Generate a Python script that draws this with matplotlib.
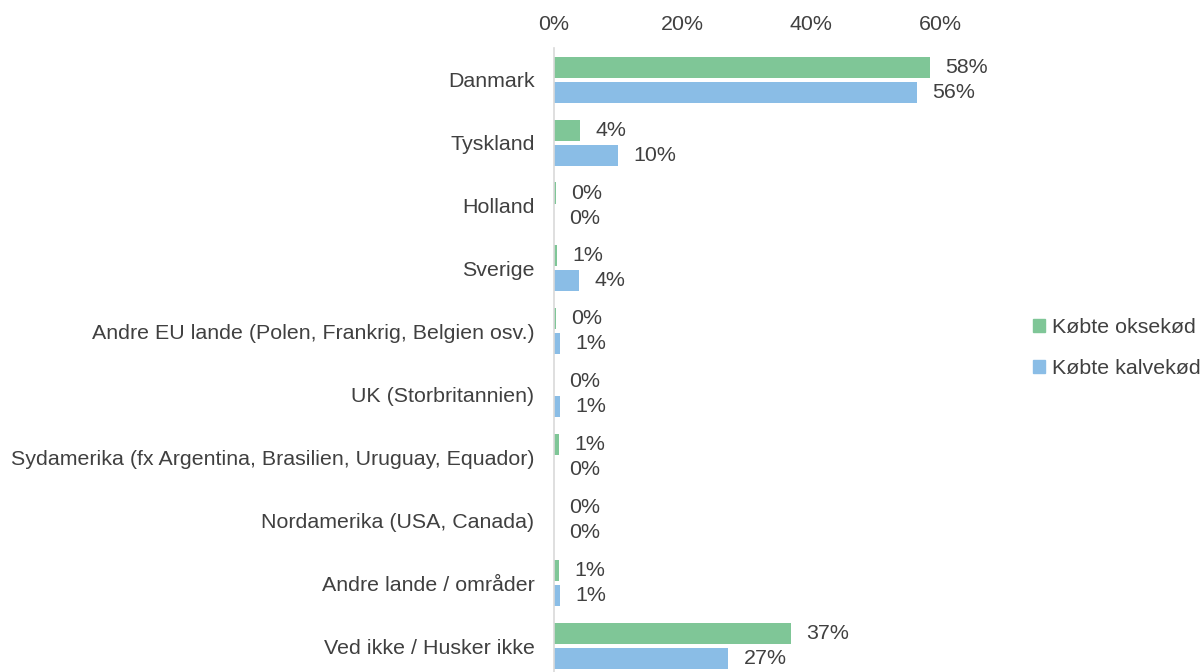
import numpy as np
import matplotlib.pyplot as plt
from matplotlib.patches import Patch

plt.rcParams['font.family'] = ['Liberation Sans', 'DejaVu Sans']

categories = ['Danmark', 'Tyskland', 'Holland', 'Sverige',
              'Andre EU lande (Polen, Frankrig, Belgien osv.)',
              'UK (Storbritannien)',
              'Sydamerika (fx Argentina, Brasilien, Uruguay, Equador)',
              'Nordamerika (USA, Canada)', 'Andre lande / områder',
              'Ved ikke / Husker ikke']
okse = [58.4, 4.0, 0.3, 0.5, 0.3, 0.0, 0.8, 0.0, 0.8, 36.8]
kalv = [56.4, 10.0, 0.0, 3.9, 0.9, 0.9, 0.0, 0.0, 0.9, 27.1]
series_names = ['Købte oksekød', 'Købte kalvekød']
xticks = [0, 20, 40, 60]

green = '#7FC697'
blue = '#8ABDE6'
txt = '#404040'
fs = 15.4

fig = plt.figure(figsize=(12.01, 6.72), dpi=100)
ax = fig.add_axes([554 / 1201, -5.5 / 672, (940 - 554) / 1201, (677.5 - 48.2) / 672])

y = np.arange(len(categories))
h = 0.334
off = 0.199
ax.barh(y - off, okse, height=h, color=green, linewidth=0)
ax.barh(y + off, kalv, height=h, color=blue, linewidth=0)

for yy, v in zip(y - off, okse):
    ax.annotate(f"{int(v + 0.5)}%", (v, yy), xytext=(11, 0), textcoords='offset points',
                va='center', ha='left', fontsize=fs, color=txt, annotation_clip=False)
for yy, v in zip(y + off, kalv):
    ax.annotate(f"{int(v + 0.5)}%", (v, yy), xytext=(11, 0), textcoords='offset points',
                va='center', ha='left', fontsize=fs, color=txt, annotation_clip=False)

ax.set_ylim(len(categories) - 0.5, -0.5)
ax.set_xlim(0, 60)
ax.set_yticks(y)
ax.set_yticklabels(categories)
ax.set_xticks(xticks)
ax.set_xticklabels([f"{t}%" for t in xticks])
ax.xaxis.tick_top()
ax.tick_params(axis='x', length=0, pad=10, labelsize=fs, labelcolor=txt)
ax.tick_params(axis='y', length=0, pad=14, labelsize=fs, labelcolor=txt)
for s in ['top', 'right', 'bottom']:
    ax.spines[s].set_visible(False)
ax.spines['left'].set_color('#D9D9D9')
ax.spines['left'].set_linewidth(1.2)

handles = [Patch(color=green), Patch(color=blue)]
fig.legend(handles, series_names, loc='center left', bbox_to_anchor=(1014 / 1201, 1 - 348 / 672),
           frameon=False, fontsize=fs, labelcolor=txt, handlelength=0.55, handleheight=0.55,
           handletextpad=0.35, labelspacing=1.05)

fig.savefig('out.png', dpi=100)
